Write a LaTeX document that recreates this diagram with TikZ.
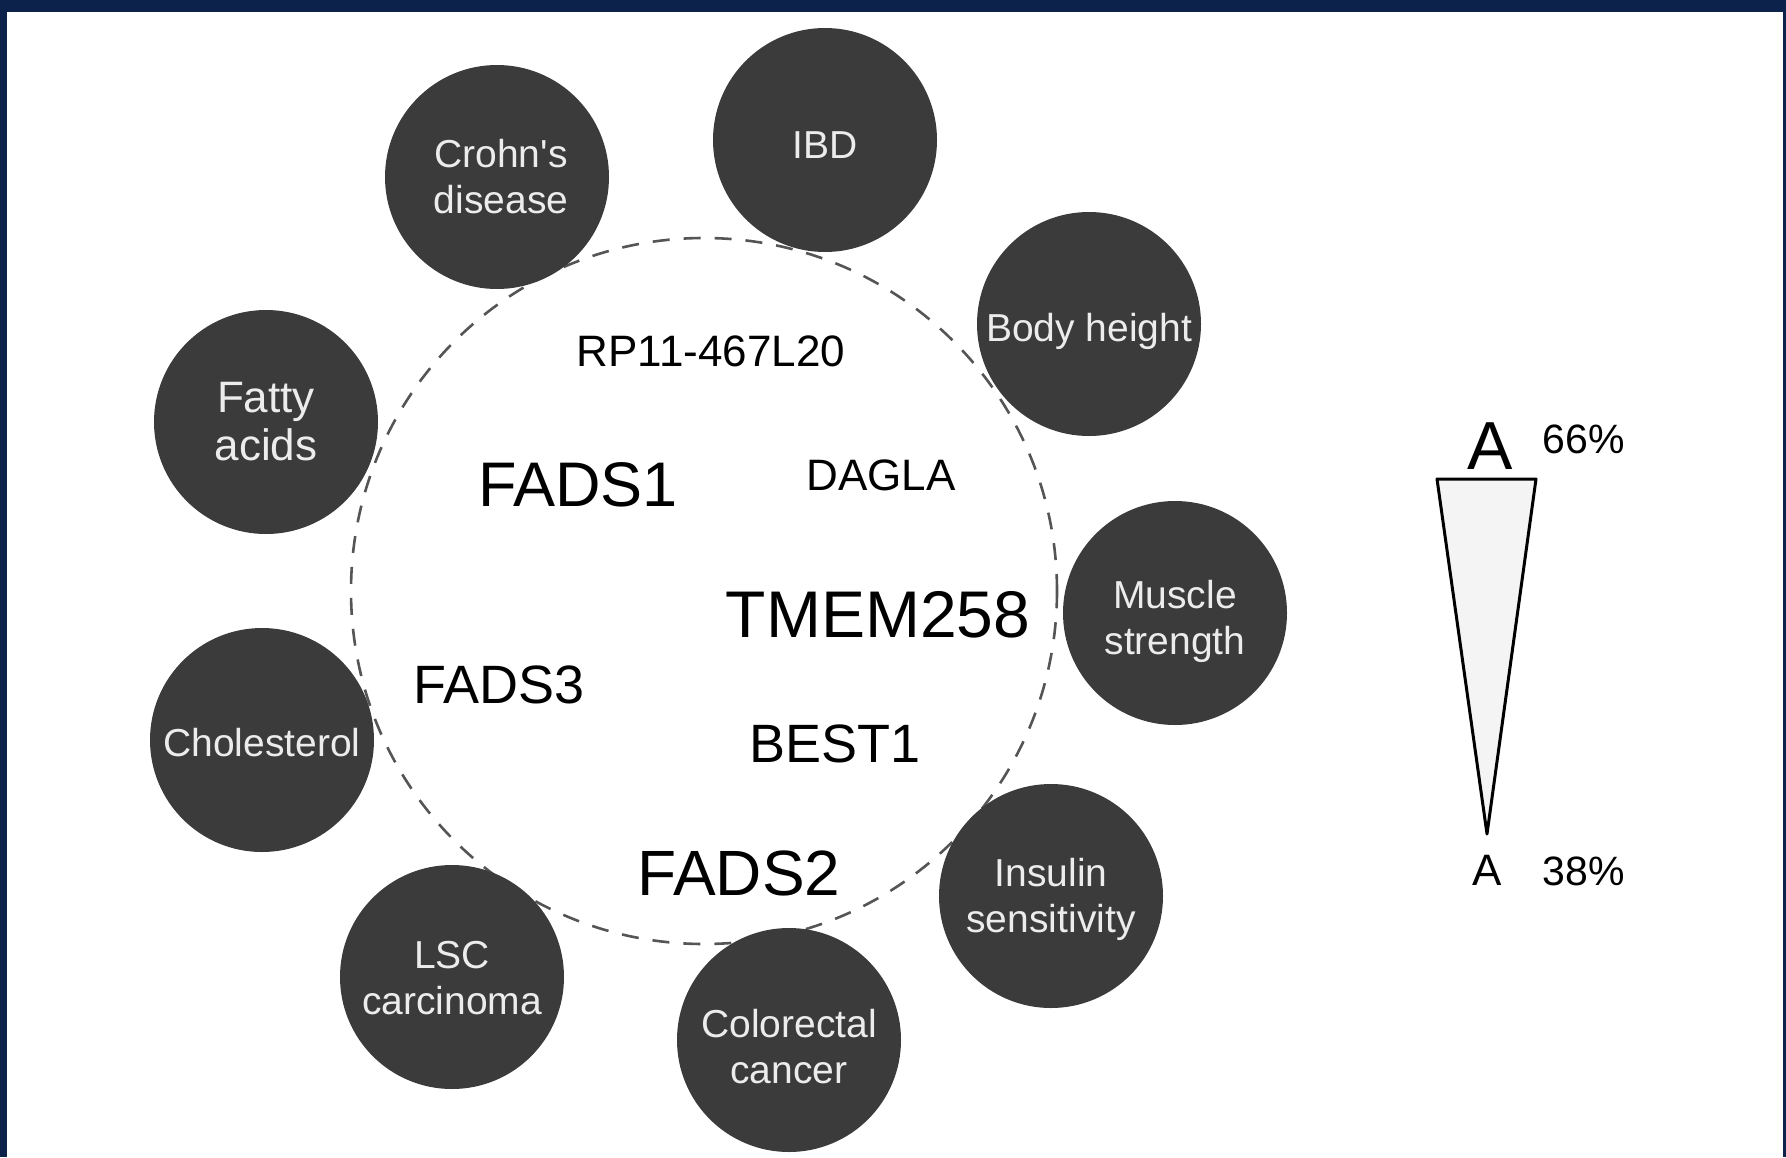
\documentclass[tikz,border=0pt]{standalone}
\usepackage{fontspec}
\setmainfont{Liberation Sans}
\definecolor{frame}{RGB}{12,34,75}
\definecolor{traitfill}{RGB}{59,59,59}
\definecolor{traittext}{RGB}{236,236,236}
\definecolor{locusline}{RGB}{85,85,85}
\definecolor{wedgefill}{RGB}{244,244,244}
\newcommand{\fs}[2]{\fontsize{#1}{#2}\selectfont}
\begin{document}
\begin{tikzpicture}[x=1pt,y=-1pt,
  trait/.style={circle, fill=traitfill, minimum size=224pt, inner sep=0pt},
  traitlabel/.style={inner sep=0pt, text=traittext, align=center,
    font=\fs{39}{46}},
  gene/.style={anchor=base, inner sep=0pt, text=black},
  locus/.style={circle, draw=locusline, line width=2.6pt,
    dash pattern=on 17pt off 14pt, minimum size=706pt, inner sep=0pt},
  legend/.style={inner sep=0pt, text=black}]

% canvas and frame bands
\useasboundingbox (0,0) rectangle (1786,1157);
\fill[white] (0,0) rectangle (1786,1157);
\fill[frame] (0,0) rectangle (1786,12);
\fill[frame] (0,0) rectangle (7,1157);
\fill[frame] (1783,0) rectangle (1786,1157);

% dashed locus boundary
\node[locus] (region) at (704,591) {};

% genes in the locus
\node[gene, font=\fs{44}{50}] (rp11) at (711,366) {RP11-467L20};
\node[gene, font=\fs{63}{70}] (fads1) at (578,506) {FADS1};
\node[gene, font=\fs{44}{50}] (dagla) at (881,490) {DAGLA};
\node[gene, font=\fs{66}{72}] (tmem) at (878,637) {TMEM258};
\node[gene, font=\fs{54}{60}] (fads3) at (499,703) {FADS3};
\node[gene, font=\fs{54}{60}] (best1) at (835,762) {BEST1};
\node[gene, font=\fs{64}{70}] (fads2) at (739,895) {FADS2};

% associated traits: discs
\node[trait] (crohn) at (497,177) {};
\node[trait] (ibd) at (825,140) {};
\node[trait] (height) at (1089,324) {};
\node[trait] (muscle) at (1175,613) {};
\node[trait] (insulin) at (1051,896) {};
\node[trait] (crc) at (789,1040) {};
\node[trait] (lsc) at (452,977) {};
\node[trait] (chol) at (262,740) {};
\node[trait] (fatty) at (266,422) {};

% associated traits: labels
\node[traitlabel] (crohn-t) at ([xshift=4pt]crohn.center) {Crohn\textquotesingle s\\disease};
\node[traitlabel] (ibd-t) at ([yshift=-5pt]ibd.center) {IBD};
\node[traitlabel] (height-t) at ([yshift=-7pt]height.center) {Body height};
\node[traitlabel] (muscle-t) at ([yshift=-8pt]muscle.center) {Muscle\\strength};
\node[traitlabel] (insulin-t) at ([yshift=-3pt]insulin.center) {Insulin\\sensitivity};
\node[traitlabel] (crc-t) at ([yshift=-7pt]crc.center) {Colorectal\\cancer};
\node[traitlabel] (lsc-t) at ([yshift=-1pt]lsc.center) {LSC\\carcinoma};
\node[traitlabel] (chol-t) at ([yshift=-3pt]chol.center) {Cholesterol};
\node[traitlabel, font=\fs{44}{48}] (fatty-t) at (fatty.center) {Fatty\\acids};

% allele frequency wedge
\draw[line width=3pt, line join=round, fill=wedgefill]
  (1437,479) -- (1536,479) -- (1487,834) -- cycle;
\node[legend, font=\fs{68}{72}, anchor=base] (atop) at (1490,469) {A};
\node[legend, font=\fs{41}{46}, anchor=base] (ptop) at (1584,453) {66\%};
\node[legend, font=\fs{44}{48}, anchor=base] (abot) at (1487,885) {A};
\node[legend, font=\fs{41}{46}, anchor=base] (pbot) at (1584,885) {38\%};
\end{tikzpicture}
\end{document}
